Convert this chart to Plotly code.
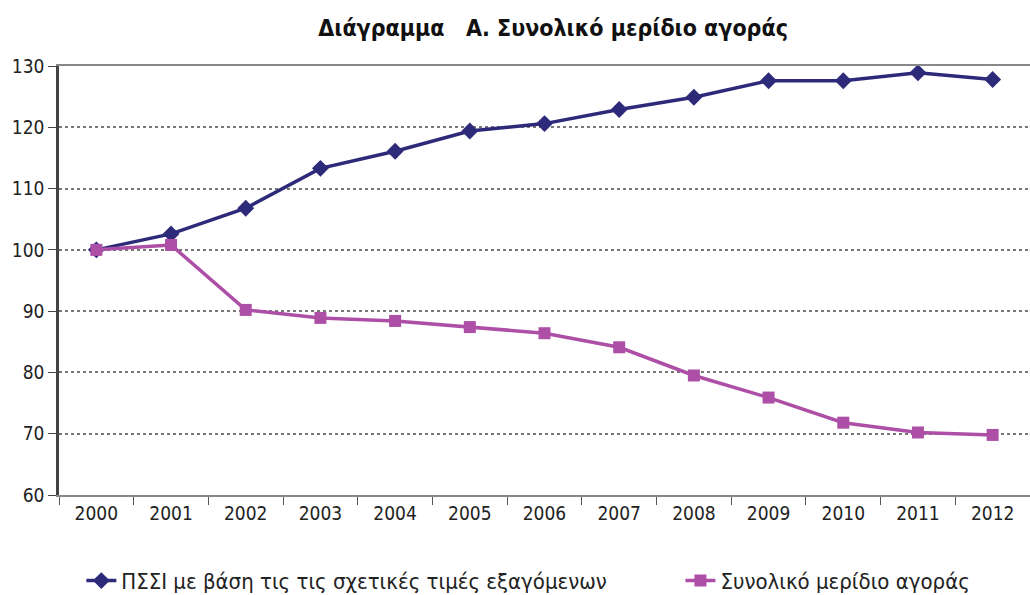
import plotly.graph_objects as go

years = ["2000", "2001", "2002", "2003", "2004", "2005", "2006",
         "2007", "2008", "2009", "2010", "2011", "2012"]
pssi = [100, 102.6, 106.8, 113.3, 116.1, 119.4, 120.6, 122.9, 124.9, 127.6, 127.6, 128.9, 127.8]
share = [100, 100.8, 90.2, 88.9, 88.4, 87.4, 86.4, 84.1, 79.5, 75.9, 71.8, 70.2, 69.8]
name_pssi = "ΠΣΣΙ με βάση τις τις σχετικές τιμές εξαγόμενων"
name_share = "Συνολικό μερίδιο αγοράς"
title = "Διάγραμμα   Α. Συνολικό μερίδιο αγοράς"
yticks = [60, 70, 80, 90, 100, 110, 120, 130]

font_narrow = "DejaVu Sans Condensed, DejaVu Sans, sans-serif"

fig = go.Figure()
fig.add_trace(go.Scatter(
    x=years, y=pssi, name=name_pssi, mode="lines+markers",
    line=dict(color="#2E2A7A", width=3.5),
    marker=dict(symbol="diamond", size=13, color="#2E2A7A"),
    legend="legend",
))
fig.add_trace(go.Scatter(
    x=years, y=share, name=name_share, mode="lines+markers",
    line=dict(color="#AD4FA6", width=3.5),
    marker=dict(symbol="square", size=12, color="#AD4FA6"),
    legend="legend2",
))

legend_common = dict(orientation="h", xanchor="left", y=-0.2, yanchor="middle",
                     font=dict(size=22, family=font_narrow, color="#222222"),
                     bgcolor="rgba(0,0,0,0)")

fig.update_layout(
    width=1030, height=595,
    margin=dict(l=59, r=0, t=66, b=100, autoexpand=False),
    paper_bgcolor="white", plot_bgcolor="white",
    title=dict(text=title, x=0.537, xanchor="center", y=0.953, yanchor="middle",
               font=dict(family=font_narrow, size=23, color="#111111", weight="bold")),
    font=dict(family=font_narrow, size=19, color="#222222"),
    showlegend=True,
    legend=dict(x=0.023, **legend_common),
    legend2=dict(x=0.640, **legend_common),
    xaxis=dict(
        type="category", tickson="boundaries", ticks="outside", ticklen=8,
        tickcolor="#555555", showline=True, linecolor="#888888", linewidth=2,
        mirror=True, showgrid=False, range=[-0.5, 12.5],
        tickfont=dict(size=19, color="#222222"),
    ),
    yaxis=dict(
        range=[60, 130], tickvals=yticks, ticks="outside", ticklen=8,
        tickcolor="#444444", showline=True, linecolor="#444444", linewidth=2.5,
        showgrid=True, gridcolor="#777777", griddash="dot", gridwidth=2,
        zeroline=False, tickfont=dict(size=19, color="#222222"),
    ),
)

fig.write_html("out.html", config={"displayModeBar": False},
               post_script="document.body.style.margin='0';")
